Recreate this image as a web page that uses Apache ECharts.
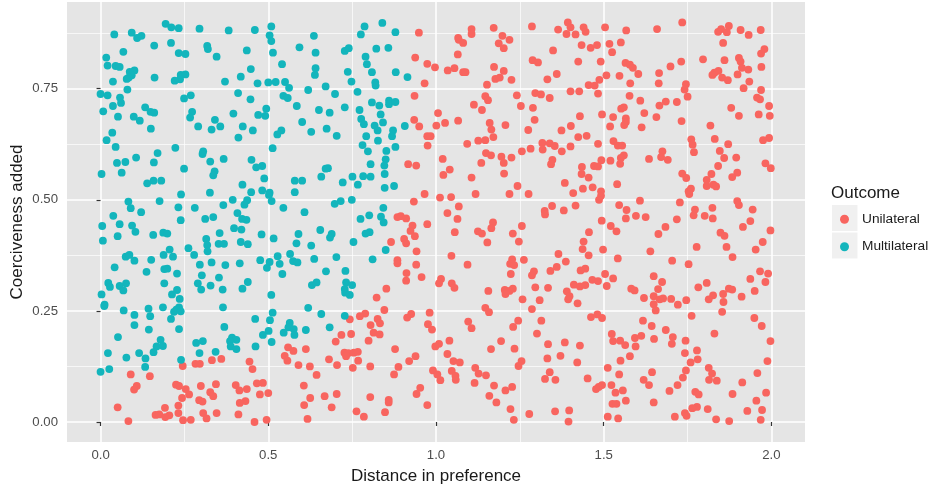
<!DOCTYPE html>
<html><head><meta charset="utf-8">
<style>html,body{margin:0;padding:0;background:#fff}#c{width:930px;height:489px}</style>
<script src="https://cdn.jsdelivr.net/npm/echarts@6/dist/echarts.min.js"></script>
</head><body><div id="c"></div>
<script>
const xTicks=[0,0.5,1,1.5,2];
const xMinor=[0.25,0.75,1.25,1.75];
const yTicks=[0,0.25,0.5,0.75];
const yMinor=[0.125,0.375,0.625,0.875];
const multilateral=[[.194,.896],[.211,.888],[.233,.886],[.295,.885],[.382,.881],[.460,.882],[.509,.890],[.041,.872],[.093,.876],[.109,.864],[.122,.869],[.504,.870],[.509,.857],[.636,.869],[.787,.890],[.776,.872],[.840,.898],[.879,.877],[.160,.847],[.210,.853],[.318,.846],[.320,.839],[.068,.833],[.233,.830],[.253,.828],[.346,.822],[.436,.836],[.514,.831],[.593,.843],[.641,.831],[.728,.835],[.740,.841],[.822,.840],[.858,.842],[.790,.822],[.017,.820],[.021,.802],[.045,.801],[.057,.799],[.541,.805],[.794,.805],[.448,.794],[.641,.796],[.639,.781],[.101,.791],[.087,.788],[.093,.780],[.084,.775],[.078,.772],[.161,.775],[.239,.781],[.253,.782],[.237,.771],[.221,.768],[.037,.766],[.371,.766],[.418,.777],[.468,.762],[.500,.764],[.522,.765],[.550,.765],[.737,.788],[.748,.766],[.809,.787],[.880,.787],[.915,.776],[.819,.764],[.820,.757],[.080,.748],[.000,.738],[.021,.735],[.058,.730],[.061,.718],[.037,.711],[.008,.699],[.249,.728],[.269,.735],[.410,.740],[.447,.726],[.562,.752],[.545,.734],[.558,.729],[.619,.747],[.671,.755],[.699,.738],[.766,.743],[.809,.719],[.831,.712],[.860,.723],[.860,.715],[.879,.720],[.133,.708],[.149,.698],[.160,.696],[.052,.687],[.099,.687],[.117,.678],[.273,.698],[.267,.685],[.396,.694],[.470,.691],[.494,.705],[.491,.689],[.585,.711],[.651,.702],[.683,.696],[.728,.708],[.772,.702],[.835,.692],[.341,.680],[.291,.665],[.331,.658],[.357,.665],[.424,.665],[.454,.656],[.601,.675],[.628,.653],[.674,.660],[.777,.682],[.785,.670],[.842,.674],[.817,.667],[.826,.656],[.907,.666],[.872,.656],[.150,.660],[.035,.651],[.018,.634],[.045,.619],[.539,.656],[.527,.647],[.411,.640],[.704,.644],[.792,.643],[.869,.643],[.827,.633],[.223,.617],[.513,.616],[.781,.623],[.879,.619],[.797,.609],[.852,.610],[.306,.609],[.304,.603],[.170,.605],[.106,.595],[.367,.592],[.450,.590],[.850,.591],[.049,.583],[.074,.585],[.159,.584],[.327,.586],[.482,.576],[.464,.573],[.846,.577],[.805,.580],[.678,.571],[.671,.570],[.003,.558],[.063,.561],[.249,.570],[.340,.564],[.336,.555],[.658,.552],[.751,.552],[.783,.553],[.805,.552],[.847,.558],[.488,.548],[.579,.543],[.601,.543],[.722,.539],[.139,.537],[.158,.543],[.181,.543],[.423,.534],[.767,.534],[.847,.527],[.875,.531],[.240,.512],[.326,.516],[.449,.517],[.482,.521],[.504,.516],[.579,.517],[.502,.511],[.749,.500],[.083,.496],[.176,.497],[.394,.500],[.437,.499],[.510,.497],[.716,.497],[.698,.491],[.429,.489],[.366,.488],[.232,.483],[.281,.482],[.090,.481],[.545,.482],[.843,.482],[.121,.472],[.408,.470],[.608,.472],[.038,.464],[.336,.461],[.312,.457],[.422,.457],[.435,.455],[.239,.454],[.775,.457],[.801,.465],[.836,.462],[.844,.449],
[.005,.441],[.057,.445],[.094,.442],[.104,.428],[.051,.418],[.007,.408],[.157,.421],[.187,.426],[.199,.424],[.315,.412],[.355,.425],[.398,.436],[.420,.433],[.480,.422],[.516,.413],[.590,.423],[.655,.432],[.689,.423],[.684,.415],[.802,.427],[.790,.424],[.754,.405],[.584,.402],[.628,.397],[.318,.398],[.352,.401],[.368,.401],[.418,.405],[.439,.400],[.262,.391],[.319,.384],[.206,.388],[.279,.376],[.188,.376],[.216,.372],[.075,.372],[.086,.376],[.101,.363],[.151,.365],[.528,.373],[.565,.378],[.850,.387],[.811,.366],[.703,.371],[.637,.367],[.574,.362],[.587,.359],[.476,.364],[.504,.360],[.534,.356],[.296,.354],[.331,.359],[.372,.353],[.415,.357],[.042,.348],[.496,.347],[.137,.338],[.190,.344],[.199,.345],[.228,.334],[.730,.340],[.672,.339],[.542,.333],[.302,.330],[.353,.325],[.023,.313],[.028,.304],[.057,.306],[.076,.312],[.068,.296],[.190,.312],[.290,.312],[.328,.307],[.439,.315],[.630,.308],[.644,.314],[.732,.314],[.750,.308],[.728,.299],[.300,.298],[.364,.298],[.423,.300],[.228,.297],[.213,.287],[.729,.291],[.743,.286],[.003,.287],[.509,.286],[.236,.277],[.012,.264],[.011,.261],[.143,.255],[.186,.258],[.365,.258],[.619,.257],[.234,.258],[.226,.253],[.219,.248],[.239,.249],[.069,.251],[.101,.241],[.148,.238],[.513,.246],[.658,.243],[.728,.239],[.210,.232],[.461,.232],[.505,.229],[.101,.218],[.144,.208],[.369,.214],[.234,.209],[.564,.223],[.560,.213],[.576,.209],[.683,.213],[.612,.207],[.546,.201],[.578,.196],[.501,.205],[.484,.196],[.052,.191],[.179,.185],[.167,.170],[.186,.171],[.305,.182],[.285,.178],[.392,.190],[.405,.185],[.386,.182],[.388,.170],[.405,.164],[.158,.157],[.462,.170],[.510,.180],[.022,.155],[.115,.155],[.295,.155],[.343,.158],[.077,.145],[.134,.143],[.240,.140],[.133,.124],[.026,.119],[.000,.113]];
const unilateral=[[.949,.876],[.938,.820],[.974,.806],[.966,.762],[.936,.734],[.935,.680],[.950,.665],[.974,.643],[.984,.643],[.975,.622],[.917,.580],[.941,.577],[.966,.513],[.934,.496],[.885,.461],[.895,.463],[.911,.458],
[.974,.445],[.930,.442],[.924,.430],[.937,.418],[.905,.412],[.911,.402],[.866,.405],[.942,.384],[.885,.364],[.885,.357],[.941,.354],[.912,.335],[.957,.326],[.911,.318],[.852,.300],[.823,.280],[.846,.252],[.789,.244],[.773,.238],[.743,.231],[.826,.232],[.833,.222],[.805,.218],[.814,.201],[.832,.197],[.981,.246],[.926,.243],[.914,.235],[.976,.220],[.988,.208],[.747,.198],[.718,.196],[.701,.181],[.799,.183],[.878,.164],[.559,.168],[.575,.160],[.612,.164],[.727,.156],[.739,.155],[.755,.156],[.767,.158],[.732,.148],[.549,.149],[.557,.138],[.681,.141],[.768,.138],[.939,.148],[.920,.137],[.245,.126],[.283,.131],[.296,.131],[.332,.139],[.360,.142],[.444,.136],[.590,.128],[.624,.125],[.705,.128],[.752,.122],[.804,.125],[.888,.124],[.453,.119],[.090,.107],[.147,.103],[.644,.106],[.875,.107],[.225,.084],[.234,.081],[.108,.081],[.100,.073],[.254,.074],[.299,.081],[.344,.085],[.403,.083],[.414,.071],[.436,.074],[.466,.087],[.484,.088],[.606,.082],[.953,.077],[.942,.063],[.264,.062],[.327,.067],[.336,.058],[.475,.062],[.500,.065],[.704,.063],[.668,.058],[.243,.054],[.625,.054],[.804,.056],[.859,.050],[.859,.044],[.294,.049],[.304,.046],[.432,.047],[.415,.043],[.232,.037],[.607,.038],[.689,.033],[.051,.033],[.192,.032],[.974,.038],[.763,.024],[.848,.022],[.164,.016],[.175,.017],[.205,.015],[.193,.011],[.232,.020],[.306,.020],[.316,.008],[.346,.020],[.411,.017],[.785,.012],[.083,.002],[.246,.004],[.269,.005],[.459,.000],[.495,.005],[.617,.007],
[1.106,.884],[1.106,.873],[1.172,.887],[1.286,.890],[1.393,.899],[1.401,.888],[1.364,.883],[1.389,.873],[1.416,.872],[1.440,.888],[1.446,.878],[1.504,.888],[1.567,.881],[1.659,.884],[1.734,.899],[1.873,.891],[1.850,.884],[1.841,.878],[1.867,.877],[1.908,.882],[1.932,.871],[1.968,.882],[1.066,.864],[1.068,.860],[1.081,.853],[1.198,.869],[1.219,.860],[1.187,.852],[1.202,.841],[1.065,.827],[1.434,.848],[1.461,.842],[1.480,.848],[1.517,.851],[1.551,.854],[1.525,.832],[1.349,.836],[1.856,.853],[1.979,.839],[1.969,.829],[.997,.798],[1.035,.791],[1.055,.796],[1.081,.787],[1.088,.787],[1.173,.799],[1.202,.790],[1.288,.814],[1.304,.809],[1.424,.811],[1.491,.811],[1.565,.808],[1.578,.804],[1.587,.797],[1.731,.811],[1.699,.800],[1.796,.816],[1.860,.814],[1.903,.819],[1.908,.811],[1.912,.797],[1.931,.793],[1.970,.799],[1.360,.783],[1.332,.771],[1.177,.772],[1.190,.775],[1.225,.770],[1.152,.759],[1.508,.780],[1.487,.770],[1.547,.779],[1.603,.783],[1.665,.785],[1.842,.790],[1.830,.786],[1.824,.781],[1.853,.775],[1.870,.769],[1.899,.782],[1.455,.758],[1.473,.757],[1.579,.762],[1.664,.762],[1.745,.760],[1.741,.748],[1.934,.766],[1.917,.751],[1.969,.747],[1.401,.744],[1.427,.744],[1.483,.739],[1.296,.740],[1.313,.737],[1.241,.735],[1.339,.729],[1.147,.733],[1.155,.724],[1.577,.734],[1.750,.732],[1.609,.723],[1.957,.730],[1.966,.726],[1.113,.714],[1.137,.702],[1.253,.711],[1.289,.707],[1.685,.721],[1.718,.720],[1.666,.712],[1.993,.711],[1.552,.705],[1.560,.708],[1.880,.707],[1.006,.695],[1.621,.695],[1.962,.692],[1.995,.689],[1.903,.689],[1.495,.692],[1.429,.688],[1.528,.686],[1.657,.686],[1.066,.678],[1.027,.673],[1.001,.667],[1.160,.673],[1.294,.680],[1.566,.683],[1.566,.675],[1.561,.668],[1.732,.677],[1.207,.668],[1.165,.658],[1.275,.657],[1.374,.656],[1.402,.666],[1.519,.665],[1.613,.663],[1.818,.667],[1.171,.641],[1.126,.633],[1.147,.634],[1.093,.626],[1.424,.641],[1.449,.644],[1.529,.632],[1.761,.636],[1.765,.624],[1.831,.637],[1.993,.639],[1.975,.634],[1.317,.628],[1.339,.627],[1.354,.621],[1.318,.613],[1.401,.620],[1.483,.626],[1.542,.622],[1.555,.622],[1.871,.625],[1.256,.609],[1.282,.615],[1.375,.609],[1.846,.610],[1.149,.605],[1.164,.600],[1.195,.597],[1.225,.595],[1.020,.592],[1.769,.607],[1.675,.609],[1.671,.596],[1.691,.590],[1.560,.600],[1.551,.594],[1.635,.592],[1.859,.594],[1.895,.595],[1.202,.583],[1.135,.583],[1.347,.590],[1.343,.580],[1.493,.589],[1.520,.588],[1.549,.581],[1.471,.576],[1.483,.575],[1.435,.574],[1.841,.576],[1.982,.582],[1.998,.571],[1.041,.568],[1.022,.556],[1.203,.559],[1.434,.558],[1.455,.550],[1.106,.550],[1.734,.559],[1.746,.549],[1.821,.558],[1.898,.561],[1.883,.551],[1.807,.545],[1.384,.538],[1.540,.535],[1.243,.531],[1.827,.534],[1.835,.530],[1.807,.531],[1.438,.525],[1.467,.528],[1.760,.525],[1.753,.519],[1.755,.513],[1.118,.513],[1.219,.513],[1.276,.513],[1.409,.515],[1.492,.519],[1.492,.509],[1.012,.505],[1.045,.506],[1.486,.500],[1.608,.498],[1.727,.494],[1.898,.497],[1.903,.488],[1.068,.485],[1.346,.486],[1.416,.487],[1.546,.488],[1.034,.470],[1.324,.475],[1.325,.467],[1.381,.476],[1.568,.477],[1.772,.478],[1.824,.482],[1.944,.478],[1.768,.465],[1.596,.464],[1.625,.461],[1.801,.464],[1.064,.457],[1.566,.458],[1.494,.453],[1.718,.456],[1.825,.458],[1.937,.452],
[1.256,.441],[1.170,.449],[1.165,.436],[1.521,.441],[1.538,.429],[1.684,.439],[1.663,.423],[1.915,.439],[1.848,.426],[1.860,.419],[1.997,.431],[1.056,.427],[1.125,.429],[1.137,.424],[1.229,.424],[1.153,.404],[1.247,.406],[1.456,.427],[1.440,.406],[1.437,.389],[1.974,.405],[1.866,.394],[1.777,.394],[1.953,.388],[1.498,.388],[1.639,.384],[1.365,.378],[1.046,.374],[1.455,.375],[1.884,.371],[1.542,.368],[1.227,.366],[1.262,.365],[1.221,.356],[1.233,.353],[1.094,.354],[1.387,.361],[1.360,.349],[1.704,.363],[1.753,.355],[1.341,.340],[1.445,.345],[1.431,.341],[1.292,.339],[1.286,.330],[1.223,.333],[1.504,.333],[1.966,.339],[1.990,.334],[1.649,.328],[1.937,.322],[1.015,.322],[1.009,.312],[1.047,.312],[1.055,.302],[1.528,.323],[1.466,.320],[1.483,.317],[1.411,.309],[1.429,.305],[1.445,.308],[1.509,.306],[1.674,.315],[1.982,.315],[1.807,.313],[1.296,.303],[1.334,.302],[1.229,.300],[1.205,.297],[1.219,.295],[1.207,.288],[1.156,.295],[1.390,.294],[1.582,.300],[1.592,.296],[1.662,.299],[1.782,.303],[1.873,.300],[1.883,.298],[1.950,.295],[1.398,.283],[1.394,.276],[1.258,.276],[1.309,.274],[1.422,.267],[1.620,.279],[1.649,.283],[1.677,.278],[1.667,.276],[1.701,.277],[1.746,.274],[1.826,.285],[1.813,.276],[1.856,.288],[1.911,.282],[1.857,.270],[1.649,.265],[1.721,.264],[1.655,.251],[1.147,.257],[1.158,.247],[1.286,.254],[1.853,.248],[1.462,.236],[1.481,.242],[1.495,.234],[1.762,.239],[1.949,.234],[1.096,.226],[1.245,.228],[1.314,.228],[1.617,.228],[1.230,.214],[1.106,.211],[1.643,.216],[1.971,.216],[1.685,.207],[1.301,.199],[1.524,.198],[1.830,.199],[1.593,.189],[1.612,.194],[1.706,.191],[1.650,.187],[1.744,.183],[1.040,.183],[1.194,.182],[1.009,.176],[.998,.170],[1.334,.175],[1.384,.179],[1.429,.172],[1.528,.182],[1.549,.183],[1.564,.173],[1.595,.170],[1.703,.176],[1.997,.182],[1.164,.164],[1.234,.165],[1.034,.153],[1.778,.161],[1.742,.155],[1.332,.143],[1.371,.149],[1.578,.148],[1.780,.141],[1.052,.137],[1.071,.134],[1.255,.137],[1.246,.126],[1.421,.134],[1.550,.138],[1.759,.134],[1.988,.137],[1.117,.122],[.991,.116],[1.047,.115],[1.512,.122],[1.813,.122],[1.127,.109],[1.149,.105],[1.004,.107],[1.058,.104],[1.059,.095],[1.013,.094],[1.339,.112],[1.644,.112],[1.745,.116],[1.546,.107],[1.823,.109],[1.958,.110],[1.325,.097],[1.356,.095],[1.452,.098],[1.736,.100],[1.619,.095],[1.814,.095],[1.837,.093],[1.115,.088],[1.173,.082],[1.227,.079],[1.207,.071],[1.913,.089],[1.495,.083],[1.485,.079],[1.477,.074],[1.523,.083],[1.635,.083],[1.720,.083],[1.557,.071],[1.535,.066],[1.696,.070],[1.773,.068],[1.783,.062],[1.884,.063],[1.984,.066],[1.159,.059],[1.180,.044],[1.566,.048],[1.526,.041],[1.538,.041],[1.649,.044],[1.955,.048],[1.222,.029],[1.778,.034],[1.764,.031],[1.810,.029],[1.355,.024],[1.397,.026],[1.928,.025],[1.972,.027],[1.278,.018],[1.742,.020],[1.747,.014],[1.512,.012],[1.712,.012],[1.543,.008],[1.232,.005],[1.395,.001],[1.835,.006],[1.874,.002],[1.968,.005]];

const FONT='"Liberation Sans",Arial,sans-serif';
const RED='#F8655F', TEAL='#13B5BC';
const chart=echarts.init(document.getElementById('c'),null,{renderer:'canvas'});
const base={type:'value',axisLine:{show:false}};
chart.setOption({
  animation:false,
  backgroundColor:'#fff',
  title:{text:'Outcome',left:826,top:180,textStyle:{fontFamily:FONT,fontSize:17,fontWeight:'normal',color:'#1a1a1a'}},
  grid:{left:67,right:125,top:2,bottom:47,show:true,backgroundColor:'#E5E5E5',borderWidth:0,outerBoundsMode:'none'},
  legend:{orient:'vertical',left:835,top:207.3,itemWidth:9,itemHeight:9,itemGap:13.4,icon:'circle',
    textStyle:{fontFamily:FONT,fontSize:13.7,color:'#1a1a1a',padding:[0,0,0,8]},data:['Unilateral','Multilateral'],selectedMode:false},
  graphic:[
    {type:'rect',shape:{x:832,y:205,width:25.5,height:26},style:{fill:'#F0F0F0'},z:-1},
    {type:'rect',shape:{x:832,y:232.5,width:25.5,height:26},style:{fill:'#F0F0F0'},z:-1}
  ],
  xAxis:[
    {...base,min:-0.1,max:2.1,name:'Distance in preference',nameLocation:'middle',nameGap:26,
      nameTextStyle:{fontFamily:FONT,fontSize:17,color:'#1a1a1a'},
      axisTick:{show:true,length:4,customValues:xTicks,lineStyle:{color:'#333',width:1.2}},
      axisLabel:{show:true,margin:7,fontFamily:FONT,fontSize:13.2,color:'#4D4D4D',customValues:xTicks,formatter:v=>v.toFixed(1)},
      splitLine:{show:true,lineStyle:{color:'#fff',width:1.5}}},
    {...base,min:-0.1,max:2.1,position:'bottom',
      axisTick:{show:false,customValues:xMinor},axisLabel:{show:false,customValues:xMinor},
      splitLine:{show:true,lineStyle:{color:'#fff',width:0.7}}}
  ],
  yAxis:[
    {...base,min:-0.045,max:0.945,name:'Coerciveness added',nameLocation:'middle',nameGap:41,nameMoveOverlap:false,
      nameTextStyle:{fontFamily:FONT,fontSize:17,color:'#1a1a1a'},
      axisTick:{show:true,length:4,customValues:yTicks,lineStyle:{color:'#333',width:1.2}},
      axisLabel:{show:true,margin:9,fontFamily:FONT,fontSize:13.2,color:'#4D4D4D',customValues:yTicks,formatter:v=>v.toFixed(2)},
      splitLine:{show:true,lineStyle:{color:'#fff',width:1.5}}},
    {...base,min:-0.045,max:0.945,position:'left',
      axisTick:{show:false,customValues:yMinor},axisLabel:{show:false,customValues:yMinor},
      splitLine:{show:true,lineStyle:{color:'#fff',width:0.7}}}
  ],
  series:[
    {name:'Unilateral',type:'scatter',data:unilateral,symbolSize:7.8,itemStyle:{color:RED,opacity:1},silent:true},
    {name:'Multilateral',type:'scatter',data:multilateral,symbolSize:7.8,itemStyle:{color:TEAL,opacity:1},silent:true}
  ]
});
</script></body></html>
